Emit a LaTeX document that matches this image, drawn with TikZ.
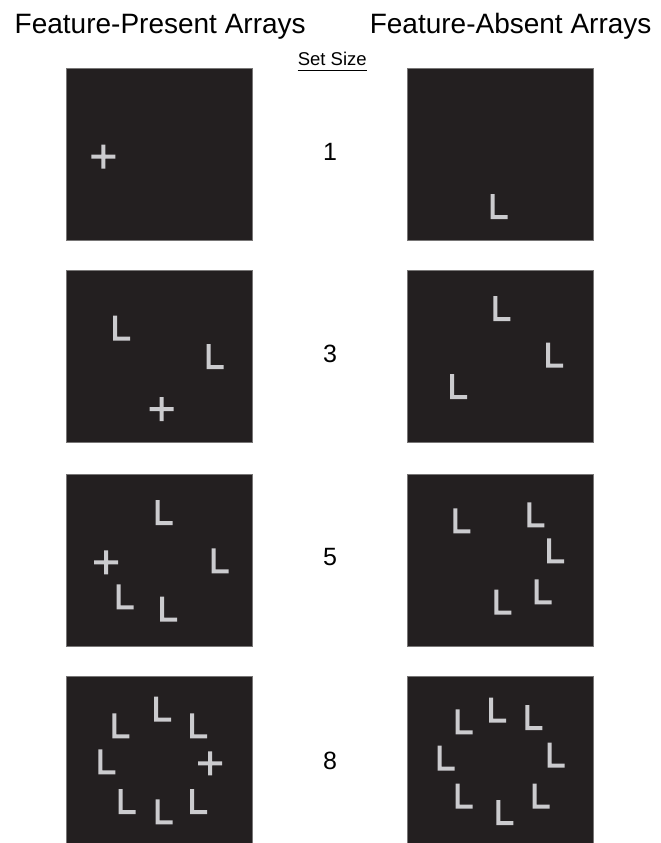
\documentclass[tikz,border=0pt]{standalone}
\usepackage{fontspec}
\setmainfont{Liberation Sans}
\definecolor{panelbg}{RGB}{35,31,32}
\definecolor{glyphc}{RGB}{203,203,206}
\definecolor{paneledge}{RGB}{120,118,118}
\tikzset{
  panel/.style={draw=paneledge, line width=0.6pt, fill=panelbg, rectangle, inner sep=0pt,
    minimum width=186.6pt, minimum height=172pt, anchor=north west},
  title/.style={inner sep=0pt, anchor=base, font=\fontsize{28}{30}\selectfont},
  setnum/.style={inner sep=0pt, anchor=center, font=\fontsize{25}{27}\selectfont},
  glyph/.style={fill=glyphc},
  Lg/.pic={\path[glyph] (0,0) -- (0,-25) -- (4,-25) -- (4,-4) -- (17,-4) -- (17,0) -- cycle;},
  Pg/.pic={\path[glyph] (-12,-2) -- (-2,-2) -- (-2,-12) -- (2,-12) -- (2,-2) -- (12,-2) -- (12,2) -- (2,2) -- (2,12) -- (-2,12) -- (-2,2) -- (-12,2) -- cycle;}
}
\begin{document}
\begin{tikzpicture}[x=1pt,y=-1pt]
\useasboundingbox[fill=white] (0,0) rectangle (661,843);
% titles
\node[title] (tp) at (160.2,33.3) {Feature-Present Arrays};
\node[title] (ta) at (510.6,33.3) {Feature-Absent Arrays};
\node[inner sep=0pt, anchor=base, font=\fontsize{18.5}{20}\selectfont] (ss) at (332.3,66) {Set Size};
\draw[line width=0.9pt] ([yshift=-4pt]ss.south west) -- ([yshift=-4pt]ss.south east);
% panels
\node[panel] (p1) at (65.7,68) {};
\node[panel] (a1) at (406.7,68) {};
\node[panel] (p3) at (65.7,270) {};
\node[panel] (a3) at (406.7,270) {};
\node[panel] (p5) at (65.7,474) {};
\node[panel] (a5) at (406.7,474) {};
\node[panel, minimum height=170pt] (p8) at (65.7,676) {};
\node[panel, minimum height=170pt] (a8) at (406.7,676) {};
% set sizes
\node[setnum] (n1) at (330,151.7) {1};
\node[setnum] (n3) at (330,354) {3};
\node[setnum] (n5) at (330,557.3) {5};
\node[setnum] (n8) at (330,761) {8};
% row 1
\pic at (103.4,156.7) {Pg};
\pic at (490.7,219) {Lg};
% row 2
\pic at (113,340.7) {Lg};
\pic at (206.7,369) {Lg};
\pic at (161.7,409) {Pg};
\pic at (493.3,321) {Lg};
\pic at (546,367.7) {Lg};
\pic at (450,399) {Lg};
% row 3
\pic at (155.7,525) {Lg};
\pic at (211.7,573.3) {Lg};
\pic at (106,562.3) {Pg};
\pic at (116.7,609.3) {Lg};
\pic at (160,621.7) {Lg};
\pic at (453.3,533.3) {Lg};
\pic at (527.3,527.3) {Lg};
\pic at (547,563.3) {Lg};
\pic at (534.7,604.3) {Lg};
\pic at (494.3,614.7) {Lg};
% row 4
\pic at (154,721.7) {Lg};
\pic at (112.3,738.3) {Lg};
\pic at (190,738.3) {Lg};
\pic at (98.3,774.3) {Lg};
\pic at (210,763.3) {Pg};
\pic at (118.7,814) {Lg};
\pic at (155.7,824.3) {Lg};
\pic at (190,814) {Lg};
\pic at (455.7,734.3) {Lg};
\pic at (489,722.7) {Lg};
\pic at (525.3,730) {Lg};
\pic at (437.7,770.7) {Lg};
\pic at (547.7,767.7) {Lg};
\pic at (455.7,808.7) {Lg};
\pic at (496.3,825) {Lg};
\pic at (532.7,808.7) {Lg};
\end{tikzpicture}
\end{document}
